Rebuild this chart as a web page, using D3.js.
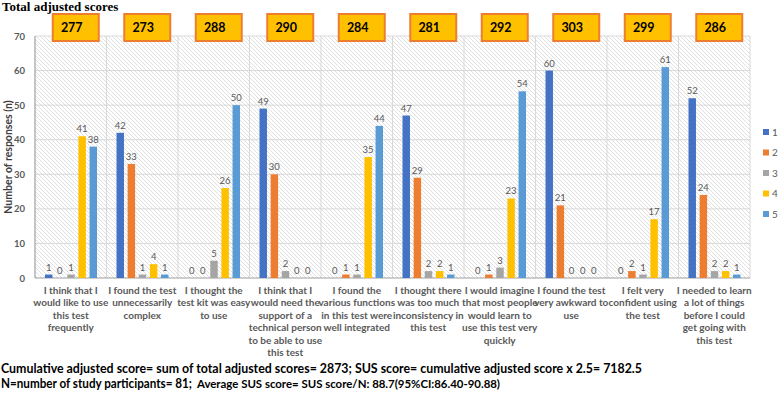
<!DOCTYPE html>
<html><head><meta charset="utf-8">
<script src="https://cdn.jsdelivr.net/npm/d3@7"></script>
<style>body{margin:0;background:#fff}svg{display:block}</style>
</head><body>
<svg id="c" width="778" height="394"></svg>
<script>
const categories = [
  "I think that I|would like to use|this test|frequently",
  "I found the test|unnecessarily|complex",
  "I thought the|test kit was easy|to use",
  "I think that I|would need the|support of a|technical person|to be able to use|this test",
  "I found the|various functions|in this test were|well integrated",
  "I thought there|was too much|inconsistency in|this test",
  "I would imagine|that most people|would learn to|use this test very|quickly",
  "I found the test|very awkward to|use",
  "I felt very|confident using|the test",
  "I needed to learn|a lot of things|before I could|get going with|this test"
];
const seriesNames = ["1","2","3","4","5"];
const s1 = [1,42,0,49,0,47,0,60,0,52];
const s2 = [0,33,0,30,1,29,1,21,2,24];
const s3 = [1,1,5,2,1,2,3,0,1,2];
const s4 = [41,4,26,0,35,2,23,0,17,2];
const s5 = [38,1,50,0,44,1,54,0,61,1];
const totals = [277,273,288,290,284,281,292,303,299,286];
const yTicks = [0,10,20,30,40,50,60,70];
const colors = ["#4472C4","#ED7D31","#A5A5A5","#FFC000","#5B9BD5"];
const series = [s1,s2,s3,s4,s5];

const svg = d3.select("#c");
const L = 35, R = 750, T = 36, B = 278;
const x = d3.scaleBand().domain(d3.range(categories.length)).range([L,R]).padding(0);
const y = d3.scaleLinear().domain([0,70]).range([B,T]);
const xi = d3.scaleBand().domain(d3.range(5)).range([10, x.bandwidth()-9.5]).paddingInner(0.33).paddingOuter(0);

const defs = svg.append("defs");
const pat = defs.append("pattern").attr("id","hatch").attr("patternUnits","userSpaceOnUse").attr("width",4).attr("height",4);
pat.append("rect").attr("width",4).attr("height",4).attr("fill","#fff");
pat.append("path").attr("d","M-1,-1 L5,5 M-1,3 L1,5 M3,-1 L5,1").attr("stroke","#DCDCDC").attr("stroke-width",0.9);

svg.append("rect").attr("x",L).attr("y",T).attr("width",R-L).attr("height",B-T).attr("fill","url(#hatch)");

// gridlines
svg.append("g").selectAll("line").data(yTicks.slice(1)).join("line")
  .attr("x1",L).attr("x2",R).attr("y1",d=>y(d)).attr("y2",d=>y(d))
  .attr("stroke","#D9D9D9").attr("stroke-width",1);
svg.append("g").selectAll("line").data(d3.range(1,categories.length+1)).join("line")
  .attr("x1",d=> d<categories.length ? x(d) : R).attr("x2",d=> d<categories.length ? x(d) : R)
  .attr("y1",T).attr("y2",B).attr("stroke","#D9D9D9").attr("stroke-width",1);

// axes lines
svg.append("line").attr("x1",L).attr("x2",L).attr("y1",T).attr("y2",B).attr("stroke","#A0A0A0").attr("stroke-width",1.2);
svg.append("line").attr("x1",L).attr("x2",R).attr("y1",B).attr("y2",B).attr("stroke","#A0A0A0").attr("stroke-width",1.2);

// y tick labels
svg.append("g").selectAll("text").data(yTicks).join("text")
  .attr("x",25).attr("y",d=>y(d)+3.5).attr("text-anchor","end")
  .attr("font-family","Lato").attr("font-size",9.5).attr("font-weight","bold").attr("fill","#595959")
  .text(d=>d);

// bars
const g = svg.append("g");
series.forEach((s,si)=>{
  g.append("g").selectAll("rect").data(s).join("rect")
    .attr("x",(d,i)=>x(i)+xi(si)).attr("width",xi.bandwidth())
    .attr("y",d=>y(d)).attr("height",d=>B-y(d)).attr("fill",colors[si]);
  g.append("g").selectAll("text").data(s).join("text")
    .attr("x",(d,i)=>x(i)+xi(si)+xi.bandwidth()/2).attr("y",d=>y(d)-4)
    .attr("text-anchor","middle").attr("font-family","Lato").attr("font-size",9.5)
    .attr("fill","#595959").text(d=>d);
});

// category labels
const cl = svg.append("g");
categories.forEach((c,i)=>{
  const t = cl.append("text").attr("text-anchor","middle").attr("font-family","Lato")
    .attr("font-size",10).attr("font-weight","bold").attr("fill","#595959");
  c.split("|").forEach((ln,j)=>{
    t.append("tspan").attr("x",x(i)+x.bandwidth()/2).attr("y",294+j*12.4).text(ln);
  });
});

// total boxes
const bx = svg.append("g");
totals.forEach((v,i)=>{
  const cx = x(i)+x.bandwidth()/2+5;
  bx.append("rect").attr("x",cx-23).attr("y",14).attr("width",46).attr("height",27)
    .attr("fill","#FFC000").attr("stroke","#ED7D31").attr("stroke-width",2);
  bx.append("text").attr("x",cx-4).attr("y",32).attr("text-anchor","middle")
    .attr("font-family","Lato").attr("font-weight","bold").attr("font-size",12.5).attr("fill","#000").text(v);
});

// legend
const lg = svg.append("g");
seriesNames.forEach((n,i)=>{
  const yy = 132 + i*20.5;
  lg.append("rect").attr("x",763).attr("y",yy-3).attr("width",6).attr("height",6).attr("fill",colors[i]);
  lg.append("text").attr("x",772).attr("y",yy+3.5).attr("font-family","Lato").attr("font-size",10)
    .attr("fill","#595959").text(n);
});

// titles
svg.append("text").attr("x",2).attr("y",11).attr("font-family","Liberation Serif").attr("font-weight","bold")
  .attr("font-size",13).attr("fill","#000").text("Total adjusted scores");
svg.append("text").attr("transform","translate(12,157) rotate(-90)").attr("text-anchor","middle")
  .attr("font-family","Lato").attr("font-weight","bold").attr("font-size",10.5).attr("fill","#404040")
  .text("Number of responses (n)");

// footer
svg.append("text").attr("x",1).attr("y",373).attr("font-family","Lato").attr("font-weight","bold")
  .attr("font-size",12.5).attr("fill","#000").attr("textLength",641).attr("lengthAdjust","spacingAndGlyphs")
  .text("Cumulative adjusted score= sum of total adjusted scores= 2873; SUS score= cumulative adjusted score x 2.5= 7182.5");
svg.append("text").attr("x",1).attr("y",388).attr("font-family","Lato").attr("font-weight","bold").attr("fill","#000")
  .attr("font-size",12.5).attr("textLength",191).attr("lengthAdjust","spacingAndGlyphs")
  .text("N=number of study participants= 81;");
svg.append("text").attr("x",197).attr("y",388).attr("font-family","Lato").attr("font-weight","bold").attr("fill","#000")
  .attr("font-size",11.5).attr("textLength",303).attr("lengthAdjust","spacingAndGlyphs")
  .text("Average SUS score= SUS score/N: 88.7(95%CI:86.40-90.88)");
</script>
</body></html>
